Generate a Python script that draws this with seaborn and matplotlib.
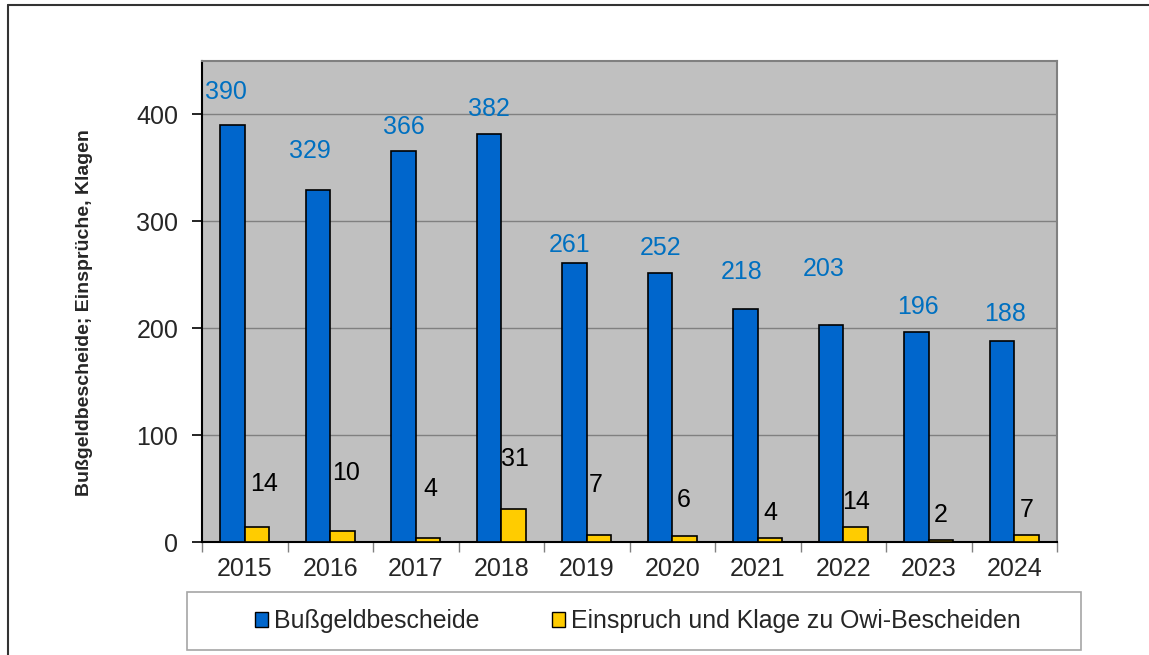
import matplotlib
matplotlib.use("Agg")
import matplotlib.pyplot as plt
from matplotlib.lines import Line2D
from matplotlib.patches import Rectangle, Patch
from matplotlib.ticker import FixedLocator, MultipleLocator
import pandas as pd
import seaborn as sns

# --- data -------------------------------------------------------------
years = ["2015", "2016", "2017", "2018", "2019", "2020", "2021", "2022", "2023", "2024"]
bussgeld = [390, 329, 366, 382, 261, 252, 218, 203, 196, 188]
einspruch = [14, 10, 4, 31, 7, 6, 4, 14, 2, 7]
series_names = ["Bußgeldbescheide", "Einspruch und Klage zu Owi-Bescheiden"]
y_title = "Bußgeldbescheide; Einsprüche, Klagen"

# --- styling ----------------------------------------------------------
colors = ["#0066CC", "#FFCC00"]
label_colors = ["#0070C0", "#000000"]
# label offsets (dx, dy) in pixels relative to the bar top centre
blue_offsets = [(-7, 33), (-8, 39), (0, 24), (0, 25), (-5, 18),
                (0, 25), (-4, 37), (-7, 56), (1, 25), (3, 27)]
yellow_offsets = [(7, 43), (4, 58), (2, 49), (2, 50), (-3, 50),
                  (-1, 36), (0, 25), (1, 25), (0, 25), (0, 25)]

df = pd.DataFrame({
    "Jahr": years * 2,
    "Anzahl": bussgeld + einspruch,
    "Reihe": [series_names[0]] * len(years) + [series_names[1]] * len(years),
})

sns.set_theme(style="white")
plt.rcParams["font.family"] = ["Liberation Sans", "DejaVu Sans"]

W, H = 1149, 655
fig = plt.figure(figsize=(W / 100, H / 100), dpi=100)
ax = fig.add_axes([202 / W, 1 - 542 / H, (1057 - 202) / W, (542 - 61) / H])

sns.barplot(data=df, x="Jahr", y="Anzahl", hue="Reihe", order=years,
            hue_order=series_names, palette=colors, width=0.57,
            edgecolor="black", linewidth=1.2, saturation=1, ax=ax,
            legend=False, zorder=3)

ax.set_facecolor("#C0C0C0")
ax.set_axisbelow(True)
ax.set_ylim(0, 450)
ax.set_xlim(-0.5, len(years) - 0.5)
ax.yaxis.set_major_locator(MultipleLocator(100))
ax.yaxis.grid(True, color="#808080", linewidth=1)
ax.xaxis.grid(False)

for side in ("left", "bottom"):
    ax.spines[side].set_color("black")
    ax.spines[side].set_linewidth(1.5)
for side in ("top", "right"):
    ax.spines[side].set_color("#808080")
    ax.spines[side].set_linewidth(1.5)

ax.tick_params(axis="y", which="major", length=7, width=1.2, color="black",
               labelsize=18, pad=10, left=True)
ax.xaxis.set_minor_locator(FixedLocator([i - 0.5 for i in range(len(years) + 1)]))
ax.tick_params(axis="x", which="major", length=0, labelsize=18, pad=11)
ax.tick_params(axis="x", which="minor", length=7, width=1, color="#808080", bottom=True)

ax.set_xlabel("")
ax.set_ylabel(y_title, fontsize=14, fontweight="bold")
ax.yaxis.set_label_coords(-0.128, 0.478)

# value labels
px2pt = 72 / 100
for container, offsets, lc in zip(ax.containers, (blue_offsets, yellow_offsets), label_colors):
    for rect, (dx, dy) in zip(container, offsets):
        h = rect.get_height()
        ax.annotate(f"{h:.0f}", xy=(rect.get_x() + rect.get_width() / 2, h),
                    xytext=(dx * px2pt, dy * px2pt), textcoords="offset points",
                    ha="center", va="center", fontsize=18, color=lc, zorder=5)

# outer chart frame (left and top edges)
fig.add_artist(Line2D([8 / W, 8 / W], [0, 1 - 5 / H], transform=fig.transFigure,
                      color="#333333", linewidth=1.5))
fig.add_artist(Line2D([8 / W, 1], [1 - 5 / H, 1 - 5 / H], transform=fig.transFigure,
                      color="#333333", linewidth=1.5))

# legend box
fig.add_artist(Rectangle((187 / W, 1 - 650 / H), (1081 - 187) / W, (650 - 592) / H,
                         transform=fig.transFigure, facecolor="white",
                         edgecolor="#A6A6A6", linewidth=1.2))
handles = [Patch(facecolor=c, edgecolor="black", linewidth=1) for c in colors]
fig.legend(handles, series_names, loc="center", bbox_to_anchor=(638 / W, 1 - 621 / H),
           ncol=2, frameon=False, fontsize=17.9, handlelength=0.53, handleheight=0.53,
           handletextpad=0.25, columnspacing=2.9)

fig.savefig("out.png", dpi=100)
